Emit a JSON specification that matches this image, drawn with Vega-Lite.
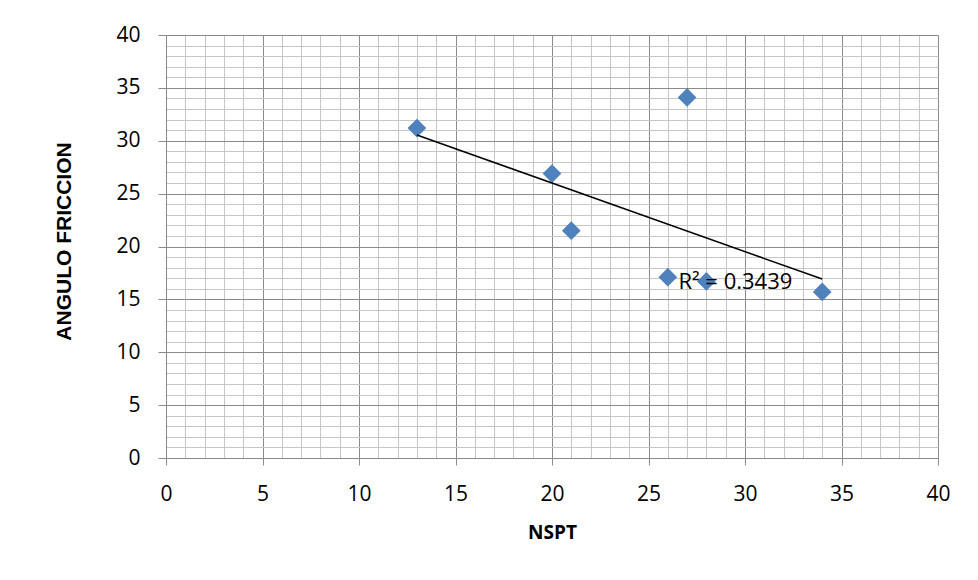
{
  "$schema": "https://vega.github.io/schema/vega-lite/v6.json",
  "autosize": "none",
  "width": 772,
  "height": 423,
  "padding": {"left": 166, "top": 35, "right": 40, "bottom": 122},
  "background": "white",
  "config": {"view": {"stroke": null}},
  "data": {"values": [
    {"NSPT": 13, "ANGULO": 31.2},
    {"NSPT": 20, "ANGULO": 26.9},
    {"NSPT": 21, "ANGULO": 21.5},
    {"NSPT": 27, "ANGULO": 34.1},
    {"NSPT": 26, "ANGULO": 17.1},
    {"NSPT": 28, "ANGULO": 16.7},
    {"NSPT": 34, "ANGULO": 15.7}
  ]},
  "layer": [
    {
      "mark": {"type": "point", "shape": "diamond", "filled": true, "color": "#4F81BD", "opacity": 1, "size": 350},
      "encoding": {
        "x": {"field": "NSPT", "type": "quantitative",
          "scale": {"domain": [0, 40], "nice": false, "zero": false},
          "axis": {
            "title": "NSPT",
            "values": [0,1,2,3,4,5,6,7,8,9,10,11,12,13,14,15,16,17,18,19,20,21,22,23,24,25,26,27,28,29,30,31,32,33,34,35,36,37,38,39,40],
            "tickCount": 41,
            "labelExpr": "datum.value % 5 === 0 ? datum.label : ''",
            "grid": true,
            "gridColor": {"condition": {"test": "datum.value % 5 === 0", "value": "#8A8A8A"}, "value": "#C6C6C6"},
            "gridWidth": 1,
            "tickColor": {"condition": {"test": "datum.value % 5 === 0", "value": "#8A8A8A"}, "value": "transparent"},
            "tickSize": 7,
            "domainColor": "#8A8A8A",
            "labelFont": "Open Sans",
            "labelFontSize": 21,
            "labelColor": "#000000",
            "labelPadding": 18,
            "labelFlush": false,
            "labelOverlap": false,
            "titleFont": "Open Sans",
            "titleFontWeight": "bold",
            "titleFontSize": 19,
            "titleColor": "#000000",
            "titleY": 74,
            "titleBaseline": "middle"
          }},
        "y": {"field": "ANGULO", "type": "quantitative",
          "scale": {"domain": [0, 40], "nice": false, "zero": false},
          "axis": {
            "title": "ANGULO FRICCION",
            "values": [0,1,2,3,4,5,6,7,8,9,10,11,12,13,14,15,16,17,18,19,20,21,22,23,24,25,26,27,28,29,30,31,32,33,34,35,36,37,38,39,40],
            "tickCount": 41,
            "labelExpr": "datum.value % 5 === 0 ? datum.label : ''",
            "grid": true,
            "gridColor": {"condition": {"test": "datum.value % 5 === 0", "value": "#8A8A8A"}, "value": "#C6C6C6"},
            "gridWidth": 1,
            "tickColor": {"condition": {"test": "datum.value % 5 === 0", "value": "#8A8A8A"}, "value": "transparent"},
            "tickSize": 8,
            "domainColor": "#8A8A8A",
            "labelFont": "Open Sans",
            "labelFontSize": 21,
            "labelColor": "#000000",
            "labelPadding": 18,
            "labelFlush": false,
            "labelOverlap": false,
            "titleFont": "Liberation Sans",
            "titleFontWeight": "bold",
            "titleFontSize": 21,
            "titleColor": "#000000",
            "titleX": -102,
            "titleY": 206,
            "titleBaseline": "middle"
          }}
      }
    },
    {
      "transform": [{"regression": "ANGULO", "on": "NSPT", "method": "linear"}],
      "mark": {"type": "line", "color": "#000000", "strokeWidth": 1.5},
      "encoding": {
        "x": {"field": "NSPT", "type": "quantitative"},
        "y": {"field": "ANGULO", "type": "quantitative"}
      }
    },
    {
      "data": {"values": [{"NSPT": 26.55, "ANGULO": 16.6, "label": "R² = 0.3439"}]},
      "mark": {"type": "text", "align": "left", "baseline": "middle", "font": "Open Sans", "fontSize": 22, "color": "#000000"},
      "encoding": {
        "x": {"field": "NSPT", "type": "quantitative"},
        "y": {"field": "ANGULO", "type": "quantitative"},
        "text": {"field": "label"}
      }
    }
  ]
}
